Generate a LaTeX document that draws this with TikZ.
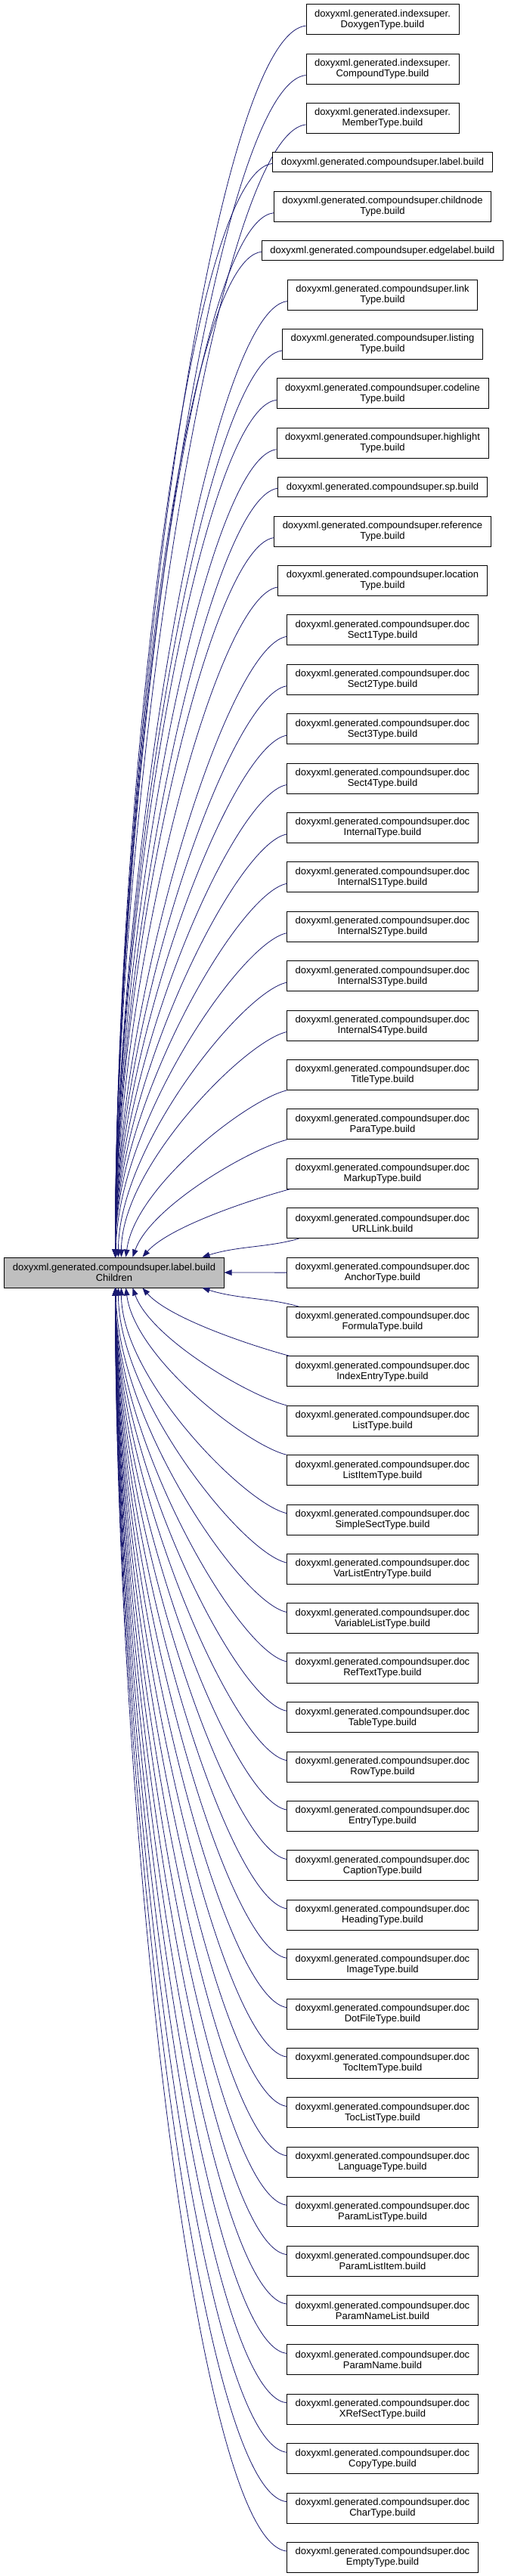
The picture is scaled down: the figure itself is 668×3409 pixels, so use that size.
\documentclass[tikz,border=0pt]{standalone}
\usepackage{fontspec}
\setmainfont{Liberation Sans}
\usepackage{tikz}
\usetikzlibrary{arrows.meta,positioning}
\definecolor{edgeblue}{RGB}{25,25,112}
\definecolor{mainfill}{RGB}{191,191,191}
\newcommand{\cs}{doxyxml.generated.compoundsuper.}

\begin{document}
\begin{tikzpicture}[x=1pt, y=-1pt,
    box/.style={draw=black, line width=0.9pt, align=center, inner xsep=11pt,
                inner ysep=2pt, font=\fontsize{13}{14}\selectfont},
    childbox/.style={box, fill=white},
    mainbox/.style={box, fill=mainfill, minimum height=40pt},
    calledge/.style={draw=edgeblue, line width=0.8pt, {Triangle[length=10pt,width=7.5pt]}-}]
    \useasboundingbox (0,0) rectangle (668,3409);
    \node[mainbox] (main) at (151,1684) {\cs label.build\\Children};
    \foreach \name/\boxh/\txt [count=\i, remember=\name as \prev (initially main)] in {
        doxygen/40/{doxyxml.generated.indexsuper.\\DoxygenType.build},
        compound/40/{doxyxml.generated.indexsuper.\\CompoundType.build},
        member/40/{doxyxml.generated.indexsuper.\\MemberType.build},
        label/26/{\cs label.build},
        childnode/40/{\cs childnode\\Type.build},
        edgelabel/26/{\cs edgelabel.build},
        link/40/{\cs link\\Type.build},
        listing/40/{\cs listing\\Type.build},
        codeline/40/{\cs codeline\\Type.build},
        highlight/40/{\cs highlight\\Type.build},
        sp/26/{\cs sp.build},
        reference/40/{\cs reference\\Type.build},
        location/40/{\cs location\\Type.build},
        sectone/40/{\cs doc\\Sect1Type.build},
        secttwo/40/{\cs doc\\Sect2Type.build},
        sectthree/40/{\cs doc\\Sect3Type.build},
        sectfour/40/{\cs doc\\Sect4Type.build},
        internal/40/{\cs doc\\InternalType.build},
        internalone/40/{\cs doc\\InternalS1Type.build},
        internaltwo/40/{\cs doc\\InternalS2Type.build},
        internalthree/40/{\cs doc\\InternalS3Type.build},
        internalfour/40/{\cs doc\\InternalS4Type.build},
        title/40/{\cs doc\\TitleType.build},
        para/40/{\cs doc\\ParaType.build},
        markup/40/{\cs doc\\MarkupType.build},
        urllink/40/{\cs doc\\URLLink.build},
        anchor/40/{\cs doc\\AnchorType.build},
        formula/40/{\cs doc\\FormulaType.build},
        indexentry/40/{\cs doc\\IndexEntryType.build},
        list/40/{\cs doc\\ListType.build},
        listitem/40/{\cs doc\\ListItemType.build},
        simplesect/40/{\cs doc\\SimpleSectType.build},
        varlistentry/40/{\cs doc\\VarListEntryType.build},
        variablelist/40/{\cs doc\\VariableListType.build},
        reftext/40/{\cs doc\\RefTextType.build},
        table/40/{\cs doc\\TableType.build},
        row/40/{\cs doc\\RowType.build},
        entry/40/{\cs doc\\EntryType.build},
        caption/40/{\cs doc\\CaptionType.build},
        heading/40/{\cs doc\\HeadingType.build},
        image/40/{\cs doc\\ImageType.build},
        dotfile/40/{\cs doc\\DotFileType.build},
        tocitem/40/{\cs doc\\TocItemType.build},
        toclist/40/{\cs doc\\TocListType.build},
        language/40/{\cs doc\\LanguageType.build},
        paramlist/40/{\cs doc\\ParamListType.build},
        paramlistitem/40/{\cs doc\\ParamListItem.build},
        paramnamelist/40/{\cs doc\\ParamNameList.build},
        paramname/40/{\cs doc\\ParamName.build},
        xrefsect/40/{\cs doc\\XRefSectType.build},
        copy/40/{\cs doc\\CopyType.build},
        char/40/{\cs doc\\CharType.build},
        empty/40/{\cs doc\\EmptyType.build}}{
      \ifnum\i=1
        \node[childbox, minimum height=\boxh pt] (\name) at (506,25.7) {\txt};
      \else
        \node[childbox, minimum height=\boxh pt, below=24.5pt of \prev] (\name) {\txt};
      \fi
      % edge back to the main node, bent by distance in rows
      \pgfmathtruncatemacro{\dist}{abs(27-\i)}
      \ifnum\dist=0
        \draw[calledge] (main.east) -- (\name.west);
      \else
        \pgfmathtruncatemacro{\tipidx}{min(\dist,8)-1}
        \pgfmathtruncatemacro{\shiftidx}{min(\dist,5)-1}
        \pgfmathsetmacro{\tx}{{262,183,170,161,155,151,148,147}[\tipidx]}
        \pgfmathsetmacro{\sx}{{16,4,0,0,0}[\shiftidx]}
        \pgfmathsetmacro{\sy}{\dist>4 ? 12 : 0}
        \pgfmathsetmacro{\reach}{65.4*\dist-28}
        \pgfmathsetmacro{\ax}{40+0.05*\reach}
        \pgfmathsetmacro{\by}{0.4*\reach}
        \pgfmathsetmacro{\bx}{max(0,5-\dist)*12}
        \ifnum\i<27
          \draw[calledge] ([xshift=\tx pt]main.north west) .. controls +(\bx,-\by) and +(-\ax,12) .. ([xshift=\sx pt, yshift=\sy pt]\name.south west);
        \else
          \draw[calledge] ([xshift=\tx pt]main.south west) .. controls +(\bx,\by) and +(-\ax,-12) .. ([xshift=\sx pt, yshift=-\sy pt]\name.north west);
        \fi
      \fi
    }
\end{tikzpicture}
\end{document}
